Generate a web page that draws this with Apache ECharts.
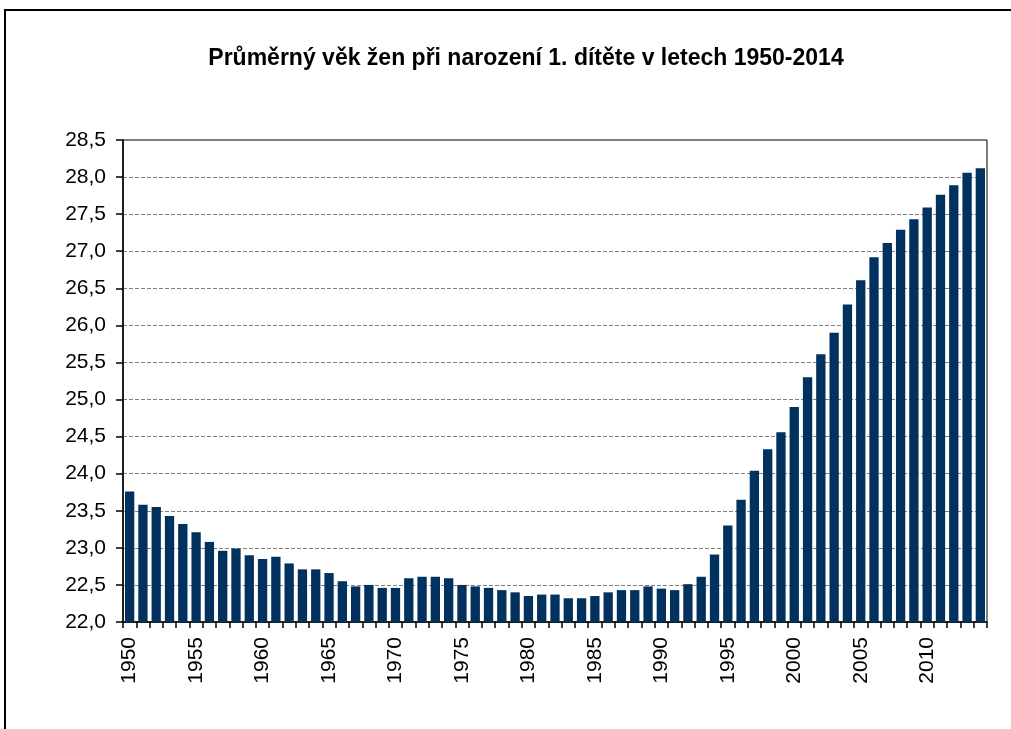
<!DOCTYPE html>
<html>
<head>
<meta charset="utf-8">
<script src="https://cdn.jsdelivr.net/npm/echarts@6/dist/echarts.min.js"></script>
<style>
  html, body { margin: 0; padding: 0; background: #fff; }
  #chart { width: 1011px; height: 729px; }
</style>
</head>
<body>
<div id="chart"></div>
<script>
// roky 1950-2014
var years = [];
for (var y = 1950; y <= 2014; y++) years.push(String(y));

// prumerny vek zen pri narozeni 1. ditete
var ages = [
  23.76, 23.58, 23.55, 23.43, 23.32, 23.21, 23.08, 22.96, 22.99, 22.90,
  22.85, 22.88, 22.79, 22.71, 22.71, 22.66, 22.55, 22.48, 22.50, 22.46,
  22.46, 22.59, 22.61, 22.61, 22.59, 22.50, 22.48, 22.46, 22.43, 22.40,
  22.35, 22.37, 22.37, 22.32, 22.32, 22.35, 22.40, 22.43, 22.43, 22.48,
  22.45, 22.43, 22.51, 22.61, 22.91, 23.30, 23.65, 24.04, 24.33, 24.56,
  24.90, 25.30, 25.61, 25.90, 26.28, 26.61, 26.92, 27.11, 27.29, 27.43,
  27.59, 27.76, 27.89, 28.06, 28.12
];

var titleText = 'Průměrný věk žen při narození 1. dítěte v letech 1950-2014';

var myChart = echarts.init(document.getElementById('chart'));

var option = {
    animation: false,
    backgroundColor: '#fff',
    title: {
        text: titleText,
        left: 521,
        top: 42,
        textAlign: 'center',
        textStyle: {
            fontFamily: 'Liberation Sans',
            fontWeight: 'bold',
            fontSize: 23,
            color: '#000'
        }
    },
    graphic: [
        {
            type: 'rect',
            shape: { x: 5, y: 10, width: 1020, height: 740 },
            style: { fill: 'none', stroke: '#000', lineWidth: 2 },
            silent: true
        }
    ],
    grid: {
        left: 123,
        right: 24,
        top: 140,
        bottom: 107,
        show: true,
        borderColor: '#000',
        borderWidth: 1,
        containLabel: false
    },
    xAxis: {
        type: 'category',
        data: years,
        boundaryGap: true,
        axisLine: { lineStyle: { color: '#000', width: 1.5 } },
        axisTick: {
            show: true,
            interval: 0,
            length: 6,
            lineStyle: { color: '#000', width: 1.5 }
        },
        axisLabel: {
            interval: 4,
            rotate: 90,
            margin: 15,
            fontFamily: 'Liberation Sans',
            fontSize: 21,
            color: '#000'
        }
    },
    yAxis: {
        type: 'value',
        min: 22,
        max: 28.5,
        interval: 0.5,
        axisLine: { show: true, lineStyle: { color: '#000', width: 1.5 } },
        axisTick: { show: true, length: 7, lineStyle: { color: '#000', width: 1.5 } },
        axisLabel: {
            margin: 17,
            fontFamily: 'Liberation Sans',
            fontSize: 21,
            color: '#000',
            formatter: function (v) { return v.toFixed(1).replace('.', ','); }
        },
        splitLine: {
            show: true,
            lineStyle: { color: '#808080', width: 1, type: [4, 2] }
        }
    },
    series: [
        {
            name: 'Průměrný věk',
            type: 'bar',
            data: ages,
            barWidth: '70%',
            clip: true,
            itemStyle: {
                color: '#00315F'
            }
        }
    ]
};

myChart.setOption(option);
</script>
</body>
</html>
